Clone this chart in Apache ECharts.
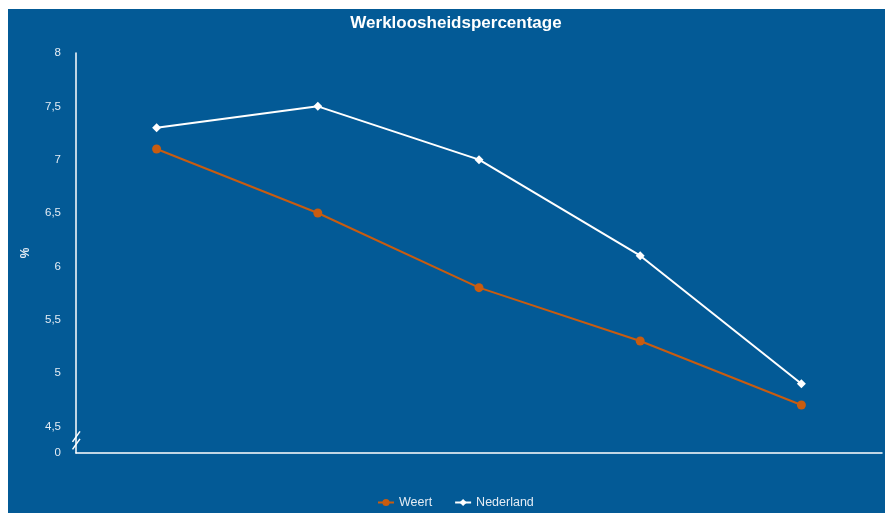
<!DOCTYPE html>
<html>
<head>
<meta charset="utf-8">
<script src="https://cdn.jsdelivr.net/npm/echarts@6/dist/echarts.min.js"></script>
<style>
    html, body { margin: 0; padding: 0; background: #fff; }
    #chart { position: absolute; left: 8px; top: 9px; width: 877px; height: 504px; }
</style>
</head>
<body>
<div id="chart"></div>
<script>
// jaren (labels staan niet in de grafiek)
var years = ['2013', '2014', '2015', '2016', '2017'];
var weert = [7.1, 6.5, 5.8, 5.3, 4.7];
var nederland = [7.3, 7.5, 7.0, 6.1, 4.9];
// as met onderbreking: 4,25 staat voor 0
var axisMin = 4.25;
var axisMax = 8;

var myChart = echarts.init(document.getElementById('chart'));
var option = {
    backgroundColor: '#035a96',
    textStyle: { fontFamily: 'Liberation Sans, Arial, sans-serif' },
    title: {
        text: 'Werkloosheidspercentage',
        left: 443,
        top: 1,
        textAlign: 'center',
        textStyle: { color: '#fff', fontSize: 17, fontWeight: 'bold' }
    },
    legend: {
        left: 364,
        bottom: -1,
        itemWidth: 16,
        itemHeight: 9,
        itemGap: 22,
        textStyle: { color: '#e4ecf4', fontSize: 12.5 },
        data: ['Weert', 'Nederland']
    },
    grid: { left: 68, top: 44, width: 806, bottom: 60 },
    xAxis: {
        type: 'category',
        data: years,
        axisLine: { lineStyle: { color: '#fff', width: 1.5 } },
        axisTick: { show: false },
        axisLabel: { show: false }
    },
    yAxis: {
        type: 'value',
        min: axisMin,
        max: axisMax,
        interval: 0.25,
        name: '%',
        nameLocation: 'middle',
        nameGap: 44,
        nameRotate: 90,
        nameTextStyle: { color: '#e4ecf4', fontSize: 12, fontWeight: 'bold' },
        axisLine: { show: true, lineStyle: { color: '#fff', width: 1.5 } },
        axisTick: { show: false },
        splitLine: { show: false },
        axisLabel: {
            color: '#e4ecf4',
            fontSize: 11.5,
            margin: 15,
            formatter: function (v) {
                if (Math.abs(v - axisMin) < 1e-6) return '0';
                if (Math.abs(v * 2 - Math.round(v * 2)) > 1e-6) return '';
                return String(v).replace('.', ',');
            }
        }
    },
    series: [
        {
            name: 'Weert',
            type: 'line',
            data: weert,
            symbol: 'circle',
            symbolSize: 9,
            color: '#c85c10',
            lineStyle: { width: 2, color: '#c85c10' },
            itemStyle: { color: '#c85c10' }
        },
        {
            name: 'Nederland',
            type: 'line',
            data: nederland,
            symbol: 'diamond',
            symbolSize: 9,
            color: '#fff',
            lineStyle: { width: 2, color: '#fff' },
            itemStyle: { color: '#fff' }
        }
    ]
};
myChart.setOption(option);

// onderbrekingsteken op de y-as
var x0 = myChart.convertToPixel({ xAxisIndex: 0 }, 0) - 806 / 10;
var yTop = myChart.convertToPixel({ yAxisIndex: 0 }, 4.5) + 6;
var yBot = myChart.convertToPixel({ yAxisIndex: 0 }, axisMin) - 1;
myChart.setOption({
    graphic: [
        { type: 'rect', shape: { x: x0 - 2, y: yTop, width: 4, height: yBot - yTop }, style: { fill: '#035a96' } },
        { type: 'line', shape: { x1: x0 + 4, y1: yTop - 1, x2: x0 - 3.5, y2: yTop + 9.5 }, style: { stroke: '#fff', lineWidth: 1.5 } },
        { type: 'line', shape: { x1: x0 + 4, y1: yTop + 6.5, x2: x0 - 3.5, y2: yTop + 17 }, style: { stroke: '#fff', lineWidth: 1.5 } }
    ]
});
</script>
</body>
</html>
